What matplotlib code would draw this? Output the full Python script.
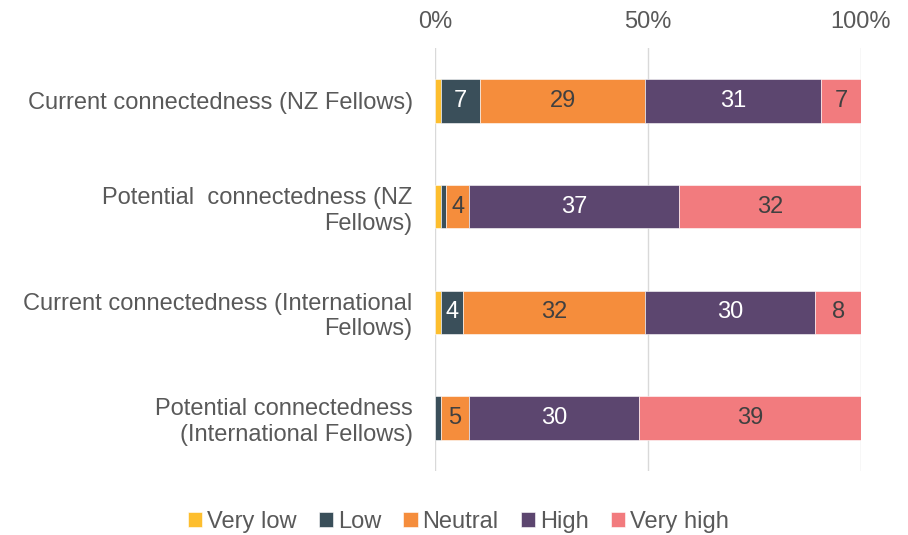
import numpy as np
import matplotlib.pyplot as plt

plt.rcParams['font.family'] = ['Liberation Sans', 'DejaVu Sans']

categories = [
    "Current connectedness (NZ Fellows)",
    "Potential  connectedness (NZ\nFellows)",
    "Current connectedness (International\nFellows)",
    "Potential connectedness\n(International Fellows)",
]
levels = ["Very low", "Low", "Neutral", "High", "Very high"]
very_low = [1, 1, 1, 0]
low = [7, 1, 4, 1]
neutral = [29, 4, 32, 5]
high = [31, 37, 30, 30]
very_high = [7, 32, 8, 39]

colors = ["#FDBE2E", "#3A4F5A", "#F58D3C", "#5C466F", "#F27B7E"]
label_colors = [None, "white", "#404040", "white", "#404040"]

series = np.array([very_low, low, neutral, high, very_high], dtype=float)
totals = series.sum(axis=0)
pct = series / totals * 100

fig = plt.figure(figsize=(9.08, 5.35), dpi=100)
ax = fig.add_axes([0.479, 0.120, 0.469, 0.790])

y = np.arange(len(categories))
left = np.zeros(len(categories))
for i, name in enumerate(levels):
    ax.barh(y, pct[i], left=left, height=0.41, color=colors[i], label=name,
            edgecolor="white", linewidth=0.4, zorder=3)
    for j in range(len(categories)):
        v = series[i, j]
        if label_colors[i] and v >= 4:
            ax.text(left[j] + pct[i, j] / 2, y[j], f"{int(v)}", ha="center",
                    va="center", color=label_colors[i], fontsize=17, zorder=4)
    left += pct[i]

ax.set_xlim(0, 100)
ax.set_ylim(3.5, -0.5)
ax.set_yticks(y)
ax.set_yticklabels(categories, fontsize=17, color="#595959", ha="right")
ax.set_xticks([0, 50, 100])
ax.set_xticklabels(["0%", "50%", "100%"], fontsize=17, color="#595959")
ax.xaxis.tick_top()
ax.tick_params(axis="both", length=0)
ax.tick_params(axis="x", pad=11)
ax.tick_params(axis="y", pad=16)
ax.grid(axis="x", color="#D9D9D9", linewidth=1, zorder=0)
for s in ax.spines.values():
    s.set_visible(False)

ax.legend(loc="upper center", bbox_to_anchor=(0.055, -0.045), ncol=5, frameon=False,
          fontsize=17, handlelength=0.6, handleheight=0.6, handletextpad=0.2,
          columnspacing=0.95, labelcolor="#595959")

fig.savefig("out.png", dpi=100)
